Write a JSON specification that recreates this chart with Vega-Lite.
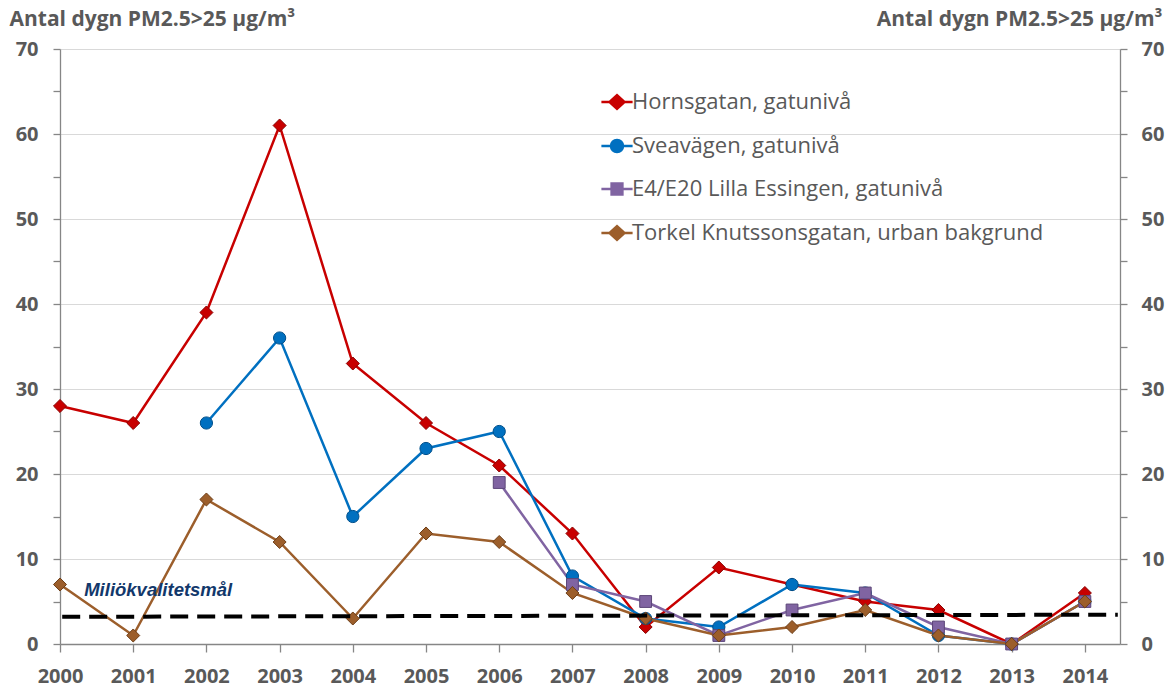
{
  "$schema": "https://vega.github.io/schema/vega-lite/v6.json",
  "width": 1060,
  "height": 595,
  "autosize": "none",
  "padding": {"left": 60, "top": 49, "right": 52, "bottom": 49},
  "background": "white",
  "config": {"view": {"stroke": null}, "font": "Open Sans"},
  "datasets": {
    "pm": [
      {"year": 2000, "series": "Hornsgatan, gatunivå", "value": 28},
      {"year": 2001, "series": "Hornsgatan, gatunivå", "value": 26},
      {"year": 2002, "series": "Hornsgatan, gatunivå", "value": 39},
      {"year": 2003, "series": "Hornsgatan, gatunivå", "value": 61},
      {"year": 2004, "series": "Hornsgatan, gatunivå", "value": 33},
      {"year": 2005, "series": "Hornsgatan, gatunivå", "value": 26},
      {"year": 2006, "series": "Hornsgatan, gatunivå", "value": 21},
      {"year": 2007, "series": "Hornsgatan, gatunivå", "value": 13},
      {"year": 2008, "series": "Hornsgatan, gatunivå", "value": 2},
      {"year": 2009, "series": "Hornsgatan, gatunivå", "value": 9},
      {"year": 2010, "series": "Hornsgatan, gatunivå", "value": 7},
      {"year": 2011, "series": "Hornsgatan, gatunivå", "value": 5},
      {"year": 2012, "series": "Hornsgatan, gatunivå", "value": 4},
      {"year": 2013, "series": "Hornsgatan, gatunivå", "value": 0},
      {"year": 2014, "series": "Hornsgatan, gatunivå", "value": 6},
      {"year": 2002, "series": "Sveavägen, gatunivå", "value": 26},
      {"year": 2003, "series": "Sveavägen, gatunivå", "value": 36},
      {"year": 2004, "series": "Sveavägen, gatunivå", "value": 15},
      {"year": 2005, "series": "Sveavägen, gatunivå", "value": 23},
      {"year": 2006, "series": "Sveavägen, gatunivå", "value": 25},
      {"year": 2007, "series": "Sveavägen, gatunivå", "value": 8},
      {"year": 2008, "series": "Sveavägen, gatunivå", "value": 3},
      {"year": 2009, "series": "Sveavägen, gatunivå", "value": 2},
      {"year": 2010, "series": "Sveavägen, gatunivå", "value": 7},
      {"year": 2011, "series": "Sveavägen, gatunivå", "value": 6},
      {"year": 2012, "series": "Sveavägen, gatunivå", "value": 1},
      {"year": 2013, "series": "Sveavägen, gatunivå", "value": 0},
      {"year": 2014, "series": "Sveavägen, gatunivå", "value": 5},
      {"year": 2006, "series": "E4/E20 Lilla Essingen, gatunivå", "value": 19},
      {"year": 2007, "series": "E4/E20 Lilla Essingen, gatunivå", "value": 7},
      {"year": 2008, "series": "E4/E20 Lilla Essingen, gatunivå", "value": 5},
      {"year": 2009, "series": "E4/E20 Lilla Essingen, gatunivå", "value": 1},
      {"year": 2010, "series": "E4/E20 Lilla Essingen, gatunivå", "value": 4},
      {"year": 2011, "series": "E4/E20 Lilla Essingen, gatunivå", "value": 6},
      {"year": 2012, "series": "E4/E20 Lilla Essingen, gatunivå", "value": 2},
      {"year": 2013, "series": "E4/E20 Lilla Essingen, gatunivå", "value": 0},
      {"year": 2014, "series": "E4/E20 Lilla Essingen, gatunivå", "value": 5},
      {"year": 2000, "series": "Torkel Knutssonsgatan, urban bakgrund", "value": 7},
      {"year": 2001, "series": "Torkel Knutssonsgatan, urban bakgrund", "value": 1},
      {"year": 2002, "series": "Torkel Knutssonsgatan, urban bakgrund", "value": 17},
      {"year": 2003, "series": "Torkel Knutssonsgatan, urban bakgrund", "value": 12},
      {"year": 2004, "series": "Torkel Knutssonsgatan, urban bakgrund", "value": 3},
      {"year": 2005, "series": "Torkel Knutssonsgatan, urban bakgrund", "value": 13},
      {"year": 2006, "series": "Torkel Knutssonsgatan, urban bakgrund", "value": 12},
      {"year": 2007, "series": "Torkel Knutssonsgatan, urban bakgrund", "value": 6},
      {"year": 2008, "series": "Torkel Knutssonsgatan, urban bakgrund", "value": 3},
      {"year": 2009, "series": "Torkel Knutssonsgatan, urban bakgrund", "value": 1},
      {"year": 2010, "series": "Torkel Knutssonsgatan, urban bakgrund", "value": 2},
      {"year": 2011, "series": "Torkel Knutssonsgatan, urban bakgrund", "value": 4},
      {"year": 2012, "series": "Torkel Knutssonsgatan, urban bakgrund", "value": 1},
      {"year": 2013, "series": "Torkel Knutssonsgatan, urban bakgrund", "value": 0},
      {"year": 2014, "series": "Torkel Knutssonsgatan, urban bakgrund", "value": 5}
    ],
    "target": [
      {"year": 2000.03, "value": 3.2, "label": "Miliökvalitetsmål"},
      {"year": 2014.45, "value": 3.45, "label": ""}
    ]
  },
  "encoding": {
    "x": {
      "field": "year",
      "type": "quantitative",
      "scale": {"domain": [2000, 2014.48], "nice": false, "zero": false},
      "axis": {
        "values": [2000, 2001, 2002, 2003, 2004, 2005, 2006, 2007, 2008, 2009, 2010, 2011, 2012, 2013, 2014],
        "format": "d",
        "grid": false,
        "title": null,
        "tickSize": 8,
        "tickColor": "#868686",
        "tickWidth": 1.3,
        "domainColor": "#868686",
        "domainWidth": 1.3,
        "labelPadding": 14,
        "labelFontSize": 20,
        "labelFontWeight": "bold",
        "labelColor": "#595959",
        "labelFlush": false,
        "labelOverlap": false
      }
    }
  },
  "layer": [
    {
      "data": {"name": "pm"},
      "layer": [
        {
          "mark": {"type": "line", "strokeWidth": 2.5},
          "encoding": {
            "y": {
              "field": "value",
              "type": "quantitative",
              "scale": {"domain": [0, 70], "nice": false},
              "axis": {
                "orient": "left",
                "values": [0, 5, 10, 15, 20, 25, 30, 35, 40, 45, 50, 55, 60, 65, 70],
                "labelExpr": "datum.value % 10 === 0 ? datum.label : ''",
                "grid": true,
                "gridColor": "#D9D9D9",
                "gridWidth": 1,
                "gridOpacity": {"condition": {"test": "datum.value % 10 !== 0", "value": 0}, "value": 1},
                "tickSize": 7,
                "tickColor": "#868686",
                "tickWidth": 1.3,
                "domainColor": "#868686",
                "domainWidth": 1.3,
                "labelPadding": 15,
                "labelFontSize": 20,
                "labelFontWeight": "bold",
                "labelColor": "#595959",
                "labelOverlap": false,
                "title": "Antal dygn PM2.5>25 µg/m³",
                "titleAngle": 0,
                "titleAlign": "left",
                "titleBaseline": "alphabetic",
                "titleX": -51,
                "titleY": -24,
                "titleFontSize": 21,
                "titleFontWeight": "bold",
                "titleColor": "#595959"
              }
            },
            "color": {
              "field": "series",
              "type": "nominal",
              "scale": {
                "domain": ["Hornsgatan, gatunivå", "Sveavägen, gatunivå", "E4/E20 Lilla Essingen, gatunivå", "Torkel Knutssonsgatan, urban bakgrund"],
                "range": ["#C80000", "#0070C0", "#8064A2", "#9C5E2B"]
              },
              "legend": {
                "orient": "none",
                "legendX": 546,
                "legendY": 42,
                "title": null,
                "labelFontSize": 22,
                "labelColor": "#595959",
                "labelFont": "Open Sans",
                "labelLimit": 600,
                "symbolSize": 144,
                "symbolStrokeWidth": 2.5,
                "symbolOpacity": 1,
                "labelOffset": 4,
                "rowPadding": 21,
                "encode": {
                  "symbols": {
                    "update": {
                      "shape": {"signal": "datum.index === 1 ? 'M-2.6,0H-1M1,0H2.6M-1,0A1,1 0 1,0 1,0A1,1 0 1,0 -1,0Z' : datum.index === 2 ? 'M-2.6,0H-0.9M0.9,0H2.6M-0.9,-0.9H0.9V0.9H-0.9Z' : 'M-2.6,0H-1.25M1.25,0H2.6M0,-1.15L1.25,0L0,1.15L-1.25,0Z'"},
                      "strokeWidth": {"value": 2.5},
                      "opacity": {"value": 1}
                    }
                  }
                }
              }
            }
          }
        },
        {
          "transform": [{"filter": "datum.series === 'Hornsgatan, gatunivå'"}],
          "mark": {"type": "point", "shape": "diamond", "filled": true, "opacity": 1, "size": 170, "strokeWidth": 1},
          "encoding": {
            "y": {"field": "value", "type": "quantitative"},
            "color": {"field": "series", "type": "nominal"},
            "stroke": {
              "field": "series",
              "type": "nominal",
              "scale": {
                "domain": ["Hornsgatan, gatunivå", "Sveavägen, gatunivå", "E4/E20 Lilla Essingen, gatunivå", "Torkel Knutssonsgatan, urban bakgrund"],
                "range": ["#8A0000", "#004F8A", "#5C4678", "#6E3F18"]
              },
              "legend": null
            }
          }
        },
        {
          "transform": [{"filter": "datum.series === 'Sveavägen, gatunivå'"}],
          "mark": {"type": "point", "shape": "circle", "filled": true, "opacity": 1, "size": 150, "strokeWidth": 1},
          "encoding": {
            "y": {"field": "value", "type": "quantitative"},
            "color": {"field": "series", "type": "nominal"},
            "stroke": {"field": "series", "type": "nominal", "legend": null}
          }
        },
        {
          "transform": [{"filter": "datum.series === 'E4/E20 Lilla Essingen, gatunivå'"}],
          "mark": {"type": "point", "shape": "square", "filled": true, "opacity": 1, "size": 140, "strokeWidth": 1},
          "encoding": {
            "y": {"field": "value", "type": "quantitative"},
            "color": {"field": "series", "type": "nominal"},
            "stroke": {"field": "series", "type": "nominal", "legend": null}
          }
        },
        {
          "transform": [{"filter": "datum.series === 'Torkel Knutssonsgatan, urban bakgrund'"}],
          "mark": {"type": "point", "shape": "diamond", "filled": true, "opacity": 1, "size": 170, "strokeWidth": 1},
          "encoding": {
            "y": {"field": "value", "type": "quantitative"},
            "color": {"field": "series", "type": "nominal"},
            "stroke": {"field": "series", "type": "nominal", "legend": null}
          }
        }
      ]
    },
    {
      "data": {"name": "target"},
      "encoding": {
        "y": {
          "field": "value",
          "type": "quantitative",
          "scale": {"domain": [0, 70], "nice": false},
          "axis": {
            "orient": "right",
            "values": [0, 5, 10, 15, 20, 25, 30, 35, 40, 45, 50, 55, 60, 65, 70],
            "labelExpr": "datum.value % 10 === 0 ? datum.label : ''",
            "grid": false,
            "tickSize": 7,
            "tickColor": "#868686",
            "tickWidth": 1.3,
            "domainColor": "#868686",
            "domainWidth": 1.3,
            "labelPadding": 14,
            "labelFontSize": 20,
            "labelFontWeight": "bold",
            "labelColor": "#595959",
            "labelOverlap": false,
            "title": "Antal dygn PM2.5>25 µg/m³",
            "titleAngle": 0,
            "titleAlign": "right",
            "titleBaseline": "alphabetic",
            "titleX": 42,
            "titleY": -24,
            "titleFontSize": 21,
            "titleFontWeight": "bold",
            "titleColor": "#595959"
          }
        }
      },
      "layer": [
        {
          "mark": {"type": "line", "color": "black", "strokeWidth": 4, "strokeDash": [18, 9]}
        },
        {
          "mark": {
            "type": "text",
            "font": "Liberation Sans",
            "fontStyle": "italic",
            "fontWeight": "bold",
            "fontSize": 18.5,
            "fill": "#12386B",
            "align": "left",
            "baseline": "alphabetic",
            "dx": 22,
            "dy": -21
          },
          "encoding": {
            "text": {"field": "label", "type": "nominal"}
          }
        }
      ]
    }
  ],
  "resolve": {"scale": {"y": "independent"}}
}
